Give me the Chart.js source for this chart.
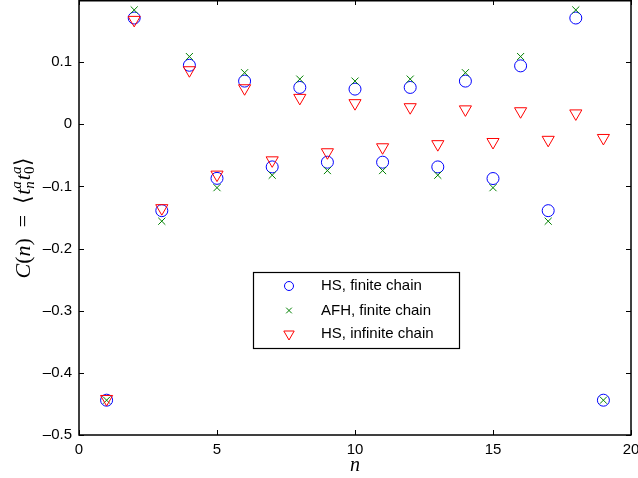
<!DOCTYPE html>
<html>
<head>
<meta charset="utf-8">
<script src="https://cdn.jsdelivr.net/npm/chart.js@4/dist/chart.umd.min.js"></script>
<style>
  html, body { margin: 0; padding: 0; background: #fff; }
  #wrap { width: 638px; height: 478px; }
</style>
</head>
<body>
<div id="wrap"><canvas id="c" width="638" height="478"></canvas></div>
<script>
// ── data ─────────────────────────────────────────────────────────────
const nValues = [1, 2, 3, 4, 5, 6, 7, 8, 9, 10, 11, 12, 13, 14, 15, 16, 17, 18, 19];

const hsFinite = [-0.444, 0.171, -0.139, 0.095, -0.087, 0.0695, -0.0686, 0.0593, -0.061, 0.0566,
                  -0.061, 0.0593, -0.0686, 0.0695, -0.0873, 0.094, -0.139, 0.171, -0.444];
const afhFinite = [-0.444, 0.184, -0.156, 0.109, -0.102, 0.083, -0.082, 0.0727, -0.0745, 0.0695,
                   -0.0745, 0.0727, -0.082, 0.083, -0.102, 0.109, -0.156, 0.184, -0.444];
const hsInfinite = [-0.442, 0.168, -0.135, 0.087, -0.081, 0.058, -0.058, 0.0425, -0.045, 0.034,
                    -0.037, 0.0275, -0.032, 0.024, -0.0285, 0.021, -0.025, 0.0175, -0.022];

const seriesLabels = ["HS, finite chain", "AFH, finite chain", "HS, infinite chain"];
const xTicks = [0, 5, 10, 15, 20];
const yTicks = [-0.5, -0.4, -0.3, -0.2, -0.1, 0, 0.1, 0.2];

const pts = arr => arr.map((v, i) => ({ x: nValues[i], y: v }));
const tickFont = { family: "'Liberation Sans', Arial, sans-serif", size: 15 };

// box + inward ticks (matlab style)
const frame = {
  id: "frame",
  afterDraw(chart) {
    const { ctx, chartArea: a, scales: { x, y } } = chart;
    ctx.save();
    ctx.strokeStyle = "#000";
    ctx.lineWidth = 1;
    for (const v of xTicks) {
      const px = Math.round(x.getPixelForValue(v)) + 0.5;
      ctx.beginPath();
      ctx.moveTo(px, a.bottom); ctx.lineTo(px, a.bottom - 5);
      ctx.moveTo(px, a.top); ctx.lineTo(px, a.top + 5);
      ctx.stroke();
    }
    for (const v of yTicks) {
      const py = Math.round(y.getPixelForValue(v)) + 0.5;
      ctx.beginPath();
      ctx.moveTo(a.left, py); ctx.lineTo(a.left + 5, py);
      ctx.moveTo(a.right, py); ctx.lineTo(a.right - 5, py);
      ctx.stroke();
    }
    ctx.lineWidth = 1.5;
    ctx.strokeRect(a.left, a.top + 0.75, a.right - a.left, a.bottom - a.top - 0.75);
    ctx.restore();
  },
};

// y title: C(n) = <t_n^a t_0^a>
const yTitle = {
  id: "yTitle",
  afterDraw(chart) {
    const { ctx, chartArea: a } = chart;
    const it = "italic 22px 'Liberation Serif', serif";
    const up = "22px 'Liberation Serif', serif";
    const sit = "italic 15px 'Liberation Serif', serif";
    const sup = "15px 'Liberation Serif', serif";
    const parts = [
      ["C", it], ["(", up], ["n", it], [")", up], ["  =  ", up], ["\u27E8", up],
      ["t", it], [["a", sit], ["n", sit]], ["t", it], [["a", sit], ["0", sup]], ["\u27E9", up],
    ];
    const w = p => {
      if (Array.isArray(p[0])) {
        ctx.font = p[0][1]; const w1 = ctx.measureText(p[0][0]).width;
        ctx.font = p[1][1]; const w2 = ctx.measureText(p[1][0]).width;
        return Math.max(w1, w2) + 1;
      }
      ctx.font = p[1];
      return ctx.measureText(p[0]).width;
    };
    const total = parts.reduce((s, p) => s + w(p), 0);
    ctx.save();
    ctx.translate(30, (a.top + a.bottom) / 2);
    ctx.rotate(-Math.PI / 2);
    ctx.fillStyle = "#000";
    ctx.textBaseline = "alphabetic";
    let cx = -total / 2;
    for (const p of parts) {
      const pw = w(p);
      if (Array.isArray(p[0])) {
        ctx.font = p[0][1]; ctx.fillText(p[0][0], cx, -9);
        ctx.font = p[1][1]; ctx.fillText(p[1][0], cx, 4);
      } else {
        ctx.font = p[1]; ctx.fillText(p[0], cx, 0);
      }
      cx += pw;
    }
    ctx.restore();
  },
};

// legend box inside the plot
const boxLegend = {
  id: "boxLegend",
  afterDraw(chart) {
    const { ctx } = chart;
    const bx = 253, by = 272, bw = 206, bh = 76;
    ctx.save();
    ctx.fillStyle = "#fff";
    ctx.fillRect(bx, by, bw, bh);
    ctx.strokeStyle = "#000";
    ctx.lineWidth = 1.2;
    ctx.strokeRect(bx + 0.5, by + 0.5, bw, bh);
    const rows = [286, 310.5, 334];
    chart.data.datasets.forEach((ds, i) => {
      ctx.fillStyle = "rgba(0,0,0,0)";
      ctx.strokeStyle = ds.borderColor;
      ctx.lineWidth = 1;
      Chart.helpers.drawPoint(ctx, {
        pointStyle: ds.pointStyle, rotation: ds.rotation || 0,
        radius: ds.legendRadius, borderWidth: 1,
      }, 289, rows[i]);
      ctx.fillStyle = "#000";
      ctx.font = "15px 'Liberation Sans', Arial, sans-serif";
      ctx.textBaseline = "middle";
      ctx.fillText(seriesLabels[i], 321, rows[i]);
    });
    ctx.restore();
  },
};

new Chart(document.getElementById("c"), {
  type: "scatter",
  data: {
    datasets: [
      {
        label: seriesLabels[0], data: pts(hsFinite),
        pointStyle: "circle", pointRadius: 6, legendRadius: 4.5,
        borderColor: "#0000ff", backgroundColor: "rgba(0,0,0,0)", borderWidth: 1, order: 2,
      },
      {
        label: seriesLabels[1], data: pts(afhFinite),
        pointStyle: "crossRot", pointRadius: 5, legendRadius: 4,
        borderColor: "#008000", backgroundColor: "rgba(0,0,0,0)", borderWidth: 1, order: 1,
      },
      {
        label: seriesLabels[2], data: pts(hsInfinite),
        pointStyle: "triangle", rotation: 180, pointRotation: 180, pointRadius: 7, legendRadius: 6,
        borderColor: "#ff0000", backgroundColor: "rgba(0,0,0,0)", borderWidth: 1, order: 0,
      },
    ],
  },
  options: {
    responsive: false,
    animation: false,
    devicePixelRatio: 1,
    layout: { autoPadding: false, padding: { left: 0, right: 7, top: 0, bottom: 0 } },
    plugins: { legend: { display: false }, tooltip: { enabled: false } },
    scales: {
      x: {
        type: "linear", min: 0, max: 20,
        afterBuildTicks: s => { s.ticks = xTicks.map(v => ({ value: v })); },
        afterFit: s => { s.height = 43; s.paddingLeft = 0; s.paddingRight = 0; },
        ticks: { color: "#000", font: tickFont, padding: 6, maxRotation: 0 },
        grid: { display: false, drawTicks: false, tickLength: 0 },
        border: { display: false },
        title: {
          display: true, text: "n", color: "#000", padding: { top: -10, bottom: 0 },
          font: { family: "'Liberation Serif', serif", size: 20, style: "italic" },
        },
      },
      y: {
        type: "linear", min: -0.5, max: 0.2,
        afterBuildTicks: s => { s.ticks = yTicks.filter(v => v < 0.15).map(v => ({ value: v })); },
        afterFit: s => { s.width = 79; s.paddingTop = 0; s.paddingBottom = 0; },
        ticks: {
          color: "#000", font: tickFont, padding: 7,
          callback: v => (Math.abs(v) < 1e-9 ? "0" : v.toFixed(1).replace("-", "\u2013")),
        },
        grid: { display: false, drawTicks: false, tickLength: 0 },
        border: { display: false },
      },
    },
  },
  plugins: [frame, yTitle, boxLegend],
});
</script>
</body>
</html>
